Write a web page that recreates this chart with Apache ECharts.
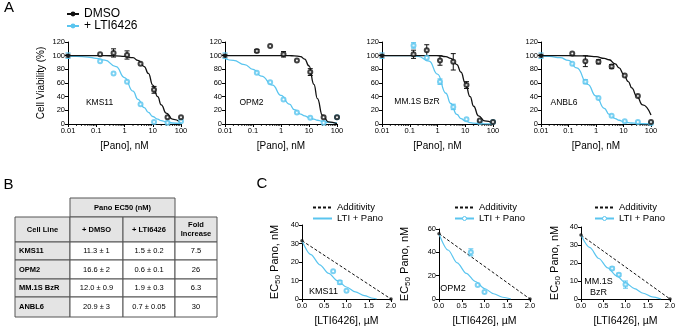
<!DOCTYPE html>
<html><head><meta charset="utf-8">
<script src="https://cdn.jsdelivr.net/npm/echarts@6/dist/echarts.min.js"></script>
<style>html,body{margin:0;padding:0;background:#fff}#c{width:676px;height:330px}</style>
</head><body><div id="c"></div><script>
// ---------- Panel A data ----------
const cellLines = ['KMS11', 'OPM2', 'MM.1S BzR', 'ANBL6'];
const curveDoses = [0.01,0.02,0.05,0.1,0.2,0.5,1,2,3,5,7,10,15,20,30,50,100];
const kms11DmsoCurve = [100,100,100,100,100,99.7,99,97,93,84,74,57,40,28,16,7,2];
const kms11LtiCurve  = [99.5,99,98,96,93.5,84,68,48,36,24,17,11,7,5,3,1.5,0.5];
const opm2DmsoCurve  = [100,100,100,100,100,100,100,100,99.8,98.5,95,85,58,37,13,3,0.5];
const opm2LtiCurve   = [95.5,93,87,80,70,57,42,29,21,14.5,12,9.5,7,5.5,4,2.5,1.5];
const mm1sDmsoCurve  = [100,100,100,100,100,100,100,98.5,96,87,76,60,40,26,12,4.5,1];
const mm1sLtiCurve   = [100,100,100,100,99,92,73,45,30,14,8,4.5,2,1.2,0.5,0.2,0];
const anbl6DmsoCurve = [100,100,100,100,99.8,99.5,98.5,96,94,88,82,73,62,53,41,28,13];
const anbl6LtiCurve  = [99.5,99,97,93,82,58,41,23,14,8,5.5,3.5,2,1.5,0.8,0.4,0.2];

const pointDoses = [0.137, 0.41, 1.23, 3.7, 11.1, 33.3, 100];
const kms11DmsoPts = [102, 104, 101, 88, 50, 10, 10];
const kms11DmsoErr = [0, 6, 6, 0, 5, 0, 0];
const kms11LtiPts  = [92, 74, 62, 29, 3, 2, 4];
const kms11LtiErr  = [0, 0, 0, 0, 0, 0, 0];
const opm2DmsoPts  = [107, 114, 102, 93, 76, 10, 10];
const opm2DmsoErr  = [2, 0, 4, 0, 5, 0, 0];
const opm2LtiPts   = [75, 61, 36, 17, 9, 2, 10];
const opm2LtiErr   = [0, 0, 0, 0, 0, 0, 0];
const mm1sDmsoPts  = [102, 108, 93, 91, 57, 5, 3];
const mm1sDmsoErr  = [6, 8, 7, 12, 5, 0, 0];
const mm1sLtiPts   = [115, 97, 62, 25, 7, 3, 3];
const mm1sLtiErr   = [4, 0, 4, 4, 0, 0, 0];
const anbl6DmsoPts = [103, 92, 91, 84, 71, 41, 3];
const anbl6DmsoErr = [0, 8, 3, 3, 0, 0, 0];
const anbl6LtiPts  = [88, 62, 38, 12, 4, 3, 1];
const anbl6LtiErr  = [0, 3, 0, 0, 0, 0, 0];
const controlDose = 0.01, controlValue = 100, controlDmsoErr = 2, controlLtiErr = 4;
// minor log ticks of the dose axis (2..9 in each decade)
const minorTickDoses = [0.02,0.03,0.04,0.05,0.06,0.07,0.08,0.09, 0.2,0.3,0.4,0.5,0.6,0.7,0.8,0.9,
  2,3,4,5,6,7,8,9, 20,30,40,50,60,70,80,90];

// ---------- Panel B data ----------
const tableHeaders = ['Cell Line', '+ DMSO', '+ LTI6426', 'Fold\nIncrease'];
const tableSuperHeader = 'Pano EC50 (nM)';
const dmsoEC50 = ['11.3 \u00b1 1', '16.6 \u00b1 2', '12.0 \u00b1 0.9', '20.9 \u00b1 3'];
const ltiEC50 = ['1.5 \u00b1 0.2', '0.6 \u00b1 0.1', '1.9 \u00b1 0.3', '0.7 \u00b1 0.05'];
const foldIncrease = ['7.5', '26', '6.3', '30'];

// ---------- Panel C data ----------
const isoLines = ['KMS11', 'OPM2', 'MM.1S\nBzR'];
const ltiPointDoses = [0.7, 0.85, 1.0];
const kms11IsoPts = [15, 9, 4.5], kms11IsoErr = [0, 1, 0];
const opm2IsoPts = [40, 12, 6], opm2IsoErr = [3, 0, 0];
const mm1sIsoPts = [17, 13.5, 8], mm1sIsoErr = [0.8, 0.8, 2];
const kms11Additivity = [[0, 31.5], [2.0, 0]];
const opm2Additivity = [[0, 56], [2.0, 0]];
const mm1sAdditivity = [[0, 35.5], [2.0, 0]];
const kms11IsoCurveX = [0,0.2,0.4,0.6,0.8,1.0,1.2,1.4,1.6,1.68];
const kms11IsoCurveY = [31.5,24,18.5,13.8,9.8,6.5,3.8,1.8,0.4,0];
const opm2IsoCurveX = [0,0.2,0.4,0.6,0.8,1.0,1.2,1.4,1.58];
const opm2IsoCurveY = [56,42,31,22,15,9,4.5,1.5,0];
const mm1sIsoCurveX = [0,0.2,0.4,0.6,0.8,1.0,1.2,1.4,1.6,1.8];
const mm1sIsoCurveY = [35.5,28.5,22.5,17.3,12.8,9,5.8,3.2,1.2,0];
const isoYMax = [40, 60, 40], isoYInterval = [10, 20, 10];

// ---------- styling ----------
const BLUE = '#5ac5ef', BLACK = '#111';
const FONT = 'Liberation Sans, Arial, Helvetica, sans-serif';

const zip = (xs, ys) => xs.map((x, i) => [x, ys[i]]);
const zipErr = (xs, ys, es) => xs.map((x, i) => [x, ys[i], es[i]]).filter(d => d[2] > 0);

function errRender(params, api) {
  const x = api.value(0), y = api.value(1), e = api.value(2);
  const top = api.coord([x, y + e]), bot = api.coord([x, y - e]);
  const w = 2.5, c = api.visual('color');
  const st = { stroke: c, lineWidth: 1 };
  return { type: 'group', children: [
    { type: 'line', shape: { x1: top[0], y1: top[1], x2: bot[0], y2: bot[1] }, style: st },
    { type: 'line', shape: { x1: top[0] - w, y1: top[1], x2: top[0] + w, y2: top[1] }, style: st },
    { type: 'line', shape: { x1: bot[0] - w, y1: bot[1], x2: bot[0] + w, y2: bot[1] }, style: st }
  ]};
}
function minorTickRender(params, api) {
  const p = api.coord([api.value(0), 0]);
  return { type: 'line', shape: { x1: p[0], y1: p[1], x2: p[0], y2: p[1] + 2 }, style: { stroke: '#000', lineWidth: 0.8 } };
}

const panelsA = [
  { dC: kms11DmsoCurve, lC: kms11LtiCurve, dP: kms11DmsoPts, dE: kms11DmsoErr, lP: kms11LtiPts, lE: kms11LtiErr },
  { dC: opm2DmsoCurve, lC: opm2LtiCurve, dP: opm2DmsoPts, dE: opm2DmsoErr, lP: opm2LtiPts, lE: opm2LtiErr },
  { dC: mm1sDmsoCurve, lC: mm1sLtiCurve, dP: mm1sDmsoPts, dE: mm1sDmsoErr, lP: mm1sLtiPts, lE: mm1sLtiErr },
  { dC: anbl6DmsoCurve, lC: anbl6LtiCurve, dP: anbl6DmsoPts, dE: anbl6DmsoErr, lP: anbl6LtiPts, lE: anbl6LtiErr }
];
const gridsA = [{ left: 68, width: 113 }, { left: 225, width: 112 }, { left: 382, width: 111 }, { left: 541, width: 110 }];
const labelPosA = [[99.5, 103], [251.5, 103], [417, 102], [564, 103]];

const panelsC = [
  { pts: kms11IsoPts, err: kms11IsoErr, add: kms11Additivity, cx: kms11IsoCurveX, cy: kms11IsoCurveY },
  { pts: opm2IsoPts, err: opm2IsoErr, add: opm2Additivity, cx: opm2IsoCurveX, cy: opm2IsoCurveY },
  { pts: mm1sIsoPts, err: mm1sIsoErr, add: mm1sAdditivity, cx: mm1sIsoCurveX, cy: mm1sIsoCurveY }
];
const gridsC = [{ left: 302, width: 89, top: 225, height: 74 }, { left: 439, width: 91, top: 229, height: 70 }, { left: 581, width: 89, top: 227, height: 72 }];
const yNameGapC = [20, 27, 19];
const labelPosC = [[323.5, 292], [453, 288.5], [598.5, 287]];
const legendLeftC = [312, 454, 594];

const axisLineStyle = { lineStyle: { color: '#000', width: 1 } };
const tickStyle = { show: true, length: 3, lineStyle: { color: '#000', width: 1 } };
const labelStyle = { fontSize: 7.5, color: '#000', margin: 3, fontFamily: FONT };

const grid = [], xAxis = [], yAxis = [], series = [];

panelsA.forEach((p, i) => {
  grid.push({ left: gridsA[i].left, width: gridsA[i].width, top: 42, height: 82, containLabel: false, outerBoundsMode: 'none' });
  xAxis.push({ type: 'log', logBase: 10, min: 0.01, max: 100, gridIndex: i,
    axisLine: axisLineStyle, axisTick: tickStyle, minorTick: { show: false },
    axisLabel: Object.assign({ formatter: v => String(parseFloat((+v).toPrecision(4))) }, labelStyle),
    splitLine: { show: false }, minorSplitLine: { show: false },
    name: '[Pano], nM', nameLocation: 'middle', nameGap: 17,
    nameTextStyle: { fontSize: 10, color: '#000', fontFamily: FONT } });
  yAxis.push({ type: 'value', min: 0, max: 120, interval: 20, gridIndex: i,
    axisLine: Object.assign({ show: true }, axisLineStyle), axisTick: tickStyle, axisLabel: labelStyle,
    splitLine: { show: false },
    name: i === 0 ? 'Cell Viability (%)' : '', nameLocation: 'middle', nameGap: 22,
    nameTextStyle: { fontSize: 10, color: '#000', fontFamily: FONT } });
  series.push({ type: 'custom', name: 'minor ticks', xAxisIndex: i, yAxisIndex: i, renderItem: minorTickRender,
    clip: false, silent: true, data: minorTickDoses.map(d => [d]), z: 1 });
  series.push({ type: 'line', name: 'DMSO', xAxisIndex: i, yAxisIndex: i, data: zip(curveDoses, p.dC),
    smooth: 0.5, smoothMonotone: 'x', symbol: 'circle', symbolSize: 4, showSymbol: false,
    lineStyle: { color: BLACK, width: 1.3 }, itemStyle: { color: BLACK }, z: 3 });
  series.push({ type: 'line', name: '+ LTI6426', xAxisIndex: i, yAxisIndex: i, data: zip(curveDoses, p.lC),
    smooth: 0.5, smoothMonotone: 'x', symbol: 'circle', symbolSize: 4, showSymbol: false,
    lineStyle: { color: BLUE, width: 1.3 }, itemStyle: { color: BLUE }, z: 2 });
  series.push({ type: 'custom', name: 'lti err', xAxisIndex: i, yAxisIndex: i, renderItem: errRender,
    itemStyle: { color: BLUE }, data: zipErr(pointDoses, p.lP, p.lE).concat([[controlDose, controlValue, controlLtiErr]]), z: 4 });
  series.push({ type: 'custom', name: 'dmso err', xAxisIndex: i, yAxisIndex: i, renderItem: errRender,
    itemStyle: { color: BLACK }, data: zipErr(pointDoses, p.dP, p.dE).concat([[controlDose, controlValue, controlDmsoErr]]), z: 4 });
  series.push({ type: 'scatter', name: 'lti pts', xAxisIndex: i, yAxisIndex: i, data: zip(pointDoses, p.lP),
    symbol: 'emptyCircle', symbolSize: 4, itemStyle: { color: BLUE, borderColor: BLUE, borderWidth: 0.8 }, z: 5 });
  series.push({ type: 'scatter', name: 'dmso pts', xAxisIndex: i, yAxisIndex: i, data: zip(pointDoses, p.dP),
    symbol: 'emptyCircle', symbolSize: 4, itemStyle: { color: BLACK, borderColor: BLACK, borderWidth: 0.8 }, z: 5 });
  series.push({ type: 'scatter', name: 'control', xAxisIndex: i, yAxisIndex: i, data: [[controlDose, controlValue]],
    symbol: 'circle', symbolSize: 4, itemStyle: { color: BLACK }, z: 6 });
});

panelsC.forEach((p, j) => {
  const k = 4 + j, g = gridsC[j];
  grid.push({ left: g.left, width: g.width, top: g.top, height: g.height, containLabel: false, outerBoundsMode: 'none' });
  xAxis.push({ type: 'value', min: 0, max: 2, interval: 0.5, gridIndex: k,
    axisLine: axisLineStyle, axisTick: tickStyle,
    axisLabel: Object.assign({ formatter: v => v.toFixed(1) }, labelStyle),
    splitLine: { show: false },
    name: '[LTI6426], \u00b5M', nameLocation: 'middle', nameGap: 17,
    nameTextStyle: { fontSize: 10.5, color: '#000', fontFamily: FONT } });
  yAxis.push({ type: 'value', min: 0, max: isoYMax[j], interval: isoYInterval[j], gridIndex: k,
    axisLine: Object.assign({ show: true }, axisLineStyle), axisTick: tickStyle, axisLabel: labelStyle,
    splitLine: { show: false },
    name: '{a|EC}{s|50}{a| Pano, nM}', nameLocation: 'middle', nameGap: yNameGapC[j],
    nameTextStyle: { color: '#000', fontFamily: FONT,
      rich: { a: { fontSize: 11, lineHeight: 14, color: '#000', fontFamily: FONT },
              s: { fontSize: 8, lineHeight: 9, verticalAlign: 'bottom', color: '#000', fontFamily: FONT } } } });
  series.push({ type: 'line', name: 'Additivity', xAxisIndex: k, yAxisIndex: k, data: p.add,
    symbol: 'none', lineStyle: { color: BLACK, width: 1, type: [3, 2] }, itemStyle: { color: BLACK }, z: 2 });
  series.push({ type: 'line', name: 'LTI + Pano', xAxisIndex: k, yAxisIndex: k, data: zip(p.cx, p.cy),
    smooth: 0.3, smoothMonotone: 'x', symbol: 'none', lineStyle: { color: BLUE, width: 1.2 }, itemStyle: { color: BLUE }, z: 3 });
  series.push({ type: 'custom', name: 'iso err', xAxisIndex: k, yAxisIndex: k, renderItem: errRender,
    itemStyle: { color: BLUE }, data: zipErr(ltiPointDoses, p.pts, p.err), z: 4 });
  series.push({ type: 'scatter', name: 'iso pts', xAxisIndex: k, yAxisIndex: k, data: zip(ltiPointDoses, p.pts),
    symbol: 'emptyCircle', symbolSize: 4, itemStyle: { color: BLUE, borderColor: BLUE, borderWidth: 0.8 }, z: 5 });
  series.push({ type: 'scatter', name: 'ends', xAxisIndex: k, yAxisIndex: k, data: p.add,
    symbol: 'circle', symbolSize: 3.5, itemStyle: { color: BLACK }, z: 6 });
});

// ---------- graphics: panel letters, in-plot labels, table ----------
const graphic = [];
const txt = (x, y, text, size, opts) => graphic.push(Object.assign({ type: 'text', x: x, y: y,
  style: Object.assign({ text: text, fontSize: size, fill: '#000', fontFamily: FONT, textAlign: 'center', textVerticalAlign: 'middle' }, opts || {}) }));
txt(9, 8, 'A', 15);
txt(8.5, 185, 'B', 15);
txt(262, 184, 'C', 15);
cellLines.forEach((n, i) => txt(labelPosA[i][0], labelPosA[i][1], n, 8.5));
isoLines.forEach((n, j) => txt(labelPosC[j][0], labelPosC[j][1], n, 9, { lineHeight: 10.5 }));

const colX = [15, 70, 123, 175, 217];
const rowY = [217, 242, 260, 279, 297, 317];
const GRAY = '#e4e4e4', LINE = '#555';
graphic.push({ type: 'rect', shape: { x: colX[1], y: 198, width: colX[3] - colX[1], height: rowY[0] - 198 },
  style: { fill: GRAY, stroke: LINE, lineWidth: 1 } });
txt((colX[1] + colX[3]) / 2, 207.5, tableSuperHeader, 7.5, { fontWeight: 'bold' });
const rowsText = [tableHeaders].concat(cellLines.map((n, i) => [n, dmsoEC50[i], ltiEC50[i], foldIncrease[i]]));
rowsText.forEach((row, r) => {
  row.forEach((t, c) => {
    graphic.push({ type: 'rect', shape: { x: colX[c], y: rowY[r], width: colX[c + 1] - colX[c], height: rowY[r + 1] - rowY[r] },
      style: { fill: (r === 0 || c === 0) ? GRAY : '#fff', stroke: LINE, lineWidth: 1 } });
    const cy = (rowY[r] + rowY[r + 1]) / 2;
    const bold = (r === 0 || c === 0);
    if (c === 0 && r > 0) txt(colX[0] + 4, cy, t, 7.5, { fontWeight: 'bold', textAlign: 'left' });
    else txt((colX[c] + colX[c + 1]) / 2, cy, t, 7.5, { fontWeight: bold ? 'bold' : 'normal', lineHeight: 9.5 });
  });
});

// ---------- legends ----------
const hiddenMarker = { opacity: 0 };
const legend = [{ left: 66, top: 8, orient: 'vertical', itemGap: 0, itemWidth: 12, itemHeight: 6, padding: 0,
  selectedMode: false, data: ['DMSO', '+ LTI6426'],
  textStyle: { fontSize: 12, lineHeight: 11, color: '#000', fontFamily: FONT } }];
legendLeftC.forEach((l, j) => legend.push({ left: l, top: 202, orient: 'vertical', itemGap: 0, itemWidth: 19, itemHeight: 5, padding: 0,
  selectedMode: false,
  data: [{ name: 'Additivity', itemStyle: hiddenMarker },
         { name: 'LTI + Pano', itemStyle: j === 0 ? hiddenMarker : { color: '#fff', borderColor: BLUE, borderWidth: 1 } }],
  textStyle: { fontSize: 9.5, lineHeight: 11, color: '#000', fontFamily: FONT } }));

const chart = echarts.init(document.getElementById('c'), null, { renderer: 'canvas' });
chart.setOption({ animation: false, backgroundColor: '#fff', textStyle: { fontFamily: FONT },
  grid: grid, xAxis: xAxis, yAxis: yAxis, series: series, legend: legend, graphic: graphic });
</script></body></html>
